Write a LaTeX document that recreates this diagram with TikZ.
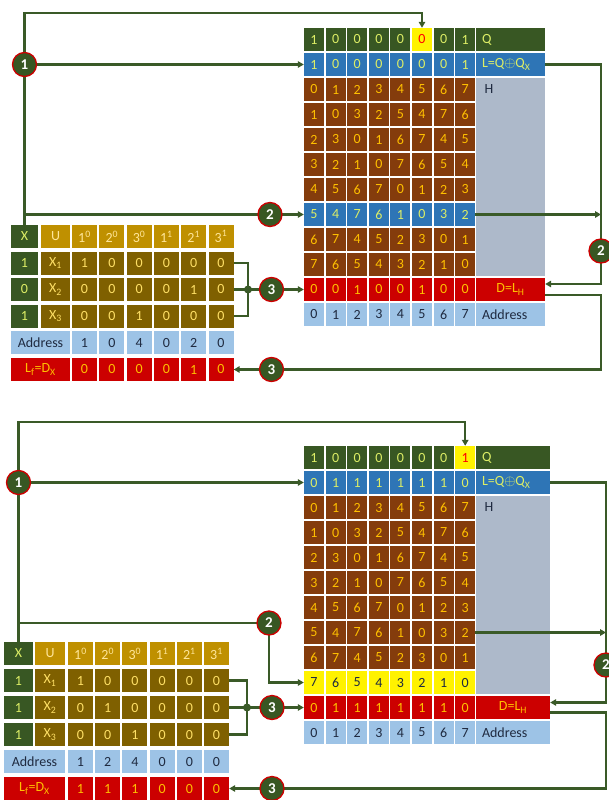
\documentclass[tikz,border=0pt]{standalone}
\usepackage{fontspec}
\setmainfont{Carlito}
\usetikzlibrary{arrows.meta,calc}
\definecolor{cgreen}{HTML}{385723}
\definecolor{cblue}{HTML}{2E75B6}
\definecolor{cbrown}{HTML}{843C0C}
\definecolor{cred}{HTML}{CC0000}
\definecolor{caddr}{HTML}{9DC3E6}
\definecolor{cgray}{HTML}{ADB9CA}
\definecolor{cgold}{HTML}{BF9000}
\definecolor{colive}{HTML}{7F6000}
\definecolor{lgreen}{HTML}{3A5A28}
\definecolor{tgreen}{HTML}{DDEE66}
\definecolor{tbrown}{HTML}{FFC000}
\definecolor{tgold}{HTML}{FFE699}
\definecolor{tolive}{HTML}{FFE066}
\definecolor{tdark}{HTML}{1F2A40}
\newcommand\cf{\fontsize{14}{16}\selectfont}
\newcommand\mkrow[4]{\foreach \v [count=\j from 0] in {#4} {\node[rc,#3] (#1\j) at ({314+21.6*\j},#2) {\v};}}
\newcommand\mkleft[6]{\foreach \v [count=\j from 0] in {#4} {\node[lc,#3] (#1\j) at ({#5+#6*\j},#2) {\v};}}
\begin{document}
\begin{tikzpicture}[x=1pt,y=-1pt,
 rc/.style={inner sep=0pt,minimum width=20pt,minimum height=23pt,font=\cf},
 lc/.style={inner sep=0pt,minimum width=25pt,minimum height=23pt,font=\cf},
 grn/.style={fill=cgreen,text=tgreen},
 blu/.style={fill=cblue,text=tgreen},
 brn/.style={fill=cbrown,text=tbrown},
 ylw/.style={fill=yellow,text=tdark},
 hil/.style={fill=yellow,text=red},
 rdr/.style={fill=cred,text=tbrown},
 adr/.style={fill=caddr,text=tdark},
 gld/.style={fill=cgold,text=tgold},
 olv/.style={fill=colive,text=tolive},
 circ/.style={circle,fill=cgreen,draw=cred,line width=1.3pt,minimum size=24pt,inner sep=0pt,text=white,font=\bfseries\fontsize{15}{15}\selectfont},
 conn/.style={draw=lgreen,line width=2.2pt},
 arr/.style={conn,-{Triangle[length=6pt,width=6.5pt]}},
 dotn/.style={circle,fill=lgreen,inner sep=0pt,minimum size=8pt},
 lab/.style={inner xsep=6pt,inner ysep=0pt,minimum height=23pt,text width=57pt,align=left,font=\cf},
 labb/.style={lab,text width=62pt}]
\useasboundingbox (0,0) rectangle (608,800);

% ================= PANEL 1 =================
\fill[cgray] (476,78) rectangle (545,276);
\foreach \j/\v in {0/1,1/0,2/0,3/0,4/0,6/0,7/1} \node[rc,grn] (aQ\j) at ({314+21.6*\j},39.5) {\v};
\node[rc,hil] (aQ5) at ({314+21.6*5},39.5) {0};
\node[lab,grn] (aQl) at (510.5,39.5) {Q};
\mkrow{aL}{64.5}{blu}{1,0,0,0,0,0,0,1}
\node[lab,blu] (aLl) at (510.5,64.5) {L=Q$\oplus$Q\textsubscript{X}};
\mkrow{aH0}{89.5}{brn}{0,1,2,3,4,5,6,7}
\mkrow{aH1}{114.5}{brn}{1,0,3,2,5,4,7,6}
\mkrow{aH2}{139.5}{brn}{2,3,0,1,6,7,4,5}
\mkrow{aH3}{164.5}{brn}{3,2,1,0,7,6,5,4}
\mkrow{aH4}{189.5}{brn}{4,5,6,7,0,1,2,3}
\mkrow{aH5}{214.5}{blu}{5,4,7,6,1,0,3,2}
\mkrow{aH6}{239.5}{brn}{6,7,4,5,2,3,0,1}
\mkrow{aH7}{264.5}{brn}{7,6,5,4,3,2,1,0}
\node[font=\cf,anchor=west,text=tdark] (aHl) at (481,89.5) {H};
\mkrow{aD}{289.5}{rdr}{0,0,1,0,0,1,0,0}
\node[lab,rdr,align=center] (aDl) at (510.5,289.5) {D=L\textsubscript{H}};
\mkrow{aA}{314.5}{adr}{0,1,2,3,4,5,6,7}
\node[lab,adr] (aAl) at (510.5,314.5) {Address};

% left table
\node[lc,grn,minimum width=27pt] (aXh) at (24.5,236.5) {X};
\node[lc,gld,minimum width=29pt] (aUh) at (55.5,236.5) {U};
\foreach \k/\t in {0/1\textsuperscript{0},1/2\textsuperscript{0},2/3\textsuperscript{0},3/1\textsuperscript{1},4/2\textsuperscript{1},5/3\textsuperscript{1}}
  \node[lc,gld] (aP\k) at ({84.5+27.3*\k},236.5) {\t};
\node[lc,grn,minimum width=27pt] (aX1) at (24.5,263.1) {1};
\node[lc,olv,minimum width=29pt] (aU1) at (55.5,263.1) {X\textsubscript{1}};
\mkleft{aV1}{263.1}{olv}{1,0,0,0,0,0}{84.5}{27.3}
\node[lc,grn,minimum width=27pt] (aX2) at (24.5,289.5) {0};
\node[lc,olv,minimum width=29pt] (aU2) at (55.5,289.5) {X\textsubscript{2}};
\mkleft{aV2}{289.5}{olv}{0,0,0,0,1,0}{84.5}{27.3}
\node[lc,grn,minimum width=27pt] (aX3) at (24.5,316.3) {1};
\node[lc,olv,minimum width=29pt] (aU3) at (55.5,316.3) {X\textsubscript{3}};
\mkleft{aV3}{316.3}{olv}{0,0,1,0,0,0}{84.5}{27.3}
\node[lc,adr,minimum width=59pt] (aAd) at (40.5,342.9) {Address};
\mkleft{aAv}{342.9}{adr}{1,0,4,0,2,0}{84.5}{27.3}
\node[lc,rdr,minimum width=59pt] (aLf) at (40.5,369.5) {L\textsubscript{f}=D\textsubscript{X}};
\mkleft{aLv}{369.5}{rdr}{0,0,0,0,1,0}{84.5}{27.3}

% connectors
\coordinate (aT) at (0,13);
\draw[arr] (aXh.north) -- (aXh.north |- aT) -| (aQ5.north);
\coordinate (a1) at (aXh.north |- aL0);
\draw[arr] (a1) -- (aL0.west);
\coordinate (a2) at (270,214.5);
\coordinate (aB2) at (aXh.north |- a2);
\draw[conn] (aB2) -- (a2);
\draw[arr] (a2) -- (aH50.west);
\coordinate (aR) at (601,0);
\coordinate (aDin) at ($(aDl.east)+(0,-5.5)$);
\coordinate (aDout) at ($(aDl.east)+(0,5.5)$);
\draw[arr] (aLl.east) -| (aR |- aDin) -- (aDin);
\draw[arr] (aH57.east) -- (aH57.east -| aR);
\coordinate (aBk) at (248,289.5);
\draw[conn] (aV15.east) -| (aBk) |- (aV35.east);
\draw[conn] (aV25.east) -- (aBk);
\coordinate (a3) at (271.5,289.5);
\draw[conn] (aBk) -- (a3);
\draw[arr] (a3) -- (aD0.west);
\coordinate (a3b) at (271.5,369.5);
\draw[conn] (aDout) -| (aR |- a3b) -- (a3b);
\draw[arr] (a3b) -- (aLv5.east);
\node[circ] (a1n) at (a1) {1};
\node[circ] (a2n) at (a2) {2};
\node[circ] (a2r) at (601,251) {2};
\node[circ] (a3n) at (a3) {3};
\node[circ] (a3m) at (a3b) {3};
\node[dotn] (aBkn) at (aBk) {};

% ================= PANEL 2 =================
\fill[cgray] (476,496) rectangle (550,694);
\foreach \j/\v in {0/1,1/0,2/0,3/0,4/0,5/0,6/0} \node[rc,grn] (bQ\j) at ({314+21.6*\j},457.5) {\v};
\node[rc,hil] (bQ7) at ({314+21.6*7},457.5) {1};
\node[labb,grn] (bQl) at (513,457.5) {Q};
\mkrow{bL}{482.5}{blu}{0,1,1,1,1,1,1,0}
\node[labb,blu] (bLl) at (513,482.5) {L=Q$\oplus$Q\textsubscript{X}};
\mkrow{bH0}{507.5}{brn}{0,1,2,3,4,5,6,7}
\mkrow{bH1}{532.5}{brn}{1,0,3,2,5,4,7,6}
\mkrow{bH2}{557.5}{brn}{2,3,0,1,6,7,4,5}
\mkrow{bH3}{582.5}{brn}{3,2,1,0,7,6,5,4}
\mkrow{bH4}{607.5}{brn}{4,5,6,7,0,1,2,3}
\mkrow{bH5}{632.5}{brn}{5,4,7,6,1,0,3,2}
\mkrow{bH6}{657.5}{brn}{6,7,4,5,2,3,0,1}
\mkrow{bH7}{682.5}{ylw}{7,6,5,4,3,2,1,0}
\node[font=\cf,anchor=west,text=tdark] (bHl) at (481,507.5) {H};
\mkrow{bD}{707.5}{rdr}{0,1,1,1,1,1,1,0}
\node[labb,rdr,align=center] (bDl) at (513,707.5) {D=L\textsubscript{H}};
\mkrow{bA}{732.5}{adr}{0,1,2,3,4,5,6,7}
\node[labb,adr] (bAl) at (513,732.5) {Address};

% left table
\node[lc,grn,minimum width=29pt] (bXh) at (18.5,653.5) {X};
\node[lc,gld,minimum width=30pt] (bUh) at (50,653.5) {U};
\foreach \k/\t in {0/1\textsuperscript{0},1/2\textsuperscript{0},2/3\textsuperscript{0},3/1\textsuperscript{1},4/2\textsuperscript{1},5/3\textsuperscript{1}}
  \node[lc,gld] (bP\k) at ({80.5+27.2*\k},653.5) {\t};
\node[lc,grn,minimum width=29pt] (bX1) at (18.5,680.5) {1};
\node[lc,olv,minimum width=30pt] (bU1) at (50,680.5) {X\textsubscript{1}};
\mkleft{bV1}{680.5}{olv}{1,0,0,0,0,0}{80.5}{27.2}
\node[lc,grn,minimum width=29pt] (bX2) at (18.5,707.5) {1};
\node[lc,olv,minimum width=30pt] (bU2) at (50,707.5) {X\textsubscript{2}};
\mkleft{bV2}{707.5}{olv}{0,1,0,0,0,0}{80.5}{27.2}
\node[lc,grn,minimum width=29pt] (bX3) at (18.5,734.5) {1};
\node[lc,olv,minimum width=30pt] (bU3) at (50,734.5) {X\textsubscript{3}};
\mkleft{bV3}{734.5}{olv}{0,0,1,0,0,0}{80.5}{27.2}
\node[lc,adr,minimum width=61pt] (bAd) at (34.5,761.5) {Address};
\mkleft{bAv}{761.5}{adr}{1,2,4,0,0,0}{80.5}{27.2}
\node[lc,rdr,minimum width=61pt] (bLf) at (34.5,788.5) {L\textsubscript{f}=D\textsubscript{X}};
\mkleft{bLv}{788.5}{rdr}{1,1,1,0,0,0}{80.5}{27.2}

% connectors
\coordinate (bT) at (0,422);
\draw[arr] (bXh.north) -- (bXh.north |- bT) -| (bQ7.north);
\coordinate (b1) at (bXh.north |- bL0);
\draw[arr] (b1) -- (bL0.west);
\coordinate (b2) at (269,623);
\coordinate (bB2) at (bXh.north |- b2);
\draw[conn] (bB2) -- (b2);
\draw[arr] (b2) |- (bH70.west);
\coordinate (bR) at (606,0);
\coordinate (bDin) at ($(bDl.east)+(0,-5)$);
\coordinate (bDout) at ($(bDl.east)+(0,5)$);
\draw[arr] (bLl.east) -| (bR |- bDin) -- (bDin);
\draw[arr] (bH57.east) -- (bH57.east -| bR);
\coordinate (bBk) at (247,707.5);
\draw[conn] (bV15.east) -| (bBk) |- (bV35.east);
\draw[conn] (bV25.east) -- (bBk);
\coordinate (b3) at (272,707.5);
\draw[conn] (bBk) -- (b3);
\draw[arr] (b3) -- (bD0.west);
\coordinate (b3b) at (272,788.5);
\draw[conn] (bDout) -| (bR |- b3b) -- (b3b);
\draw[arr] (b3b) -- (bLv5.east);
\node[circ] (b1n) at (b1) {1};
\node[circ] (b2n) at (b2) {2};
\node[circ] (b2r) at (606,665) {2};
\node[circ] (b3n) at (b3) {3};
\node[circ] (b3m) at (b3b) {3};
\node[dotn] (bBkn) at (bBk) {};
\end{tikzpicture}
\end{document}
